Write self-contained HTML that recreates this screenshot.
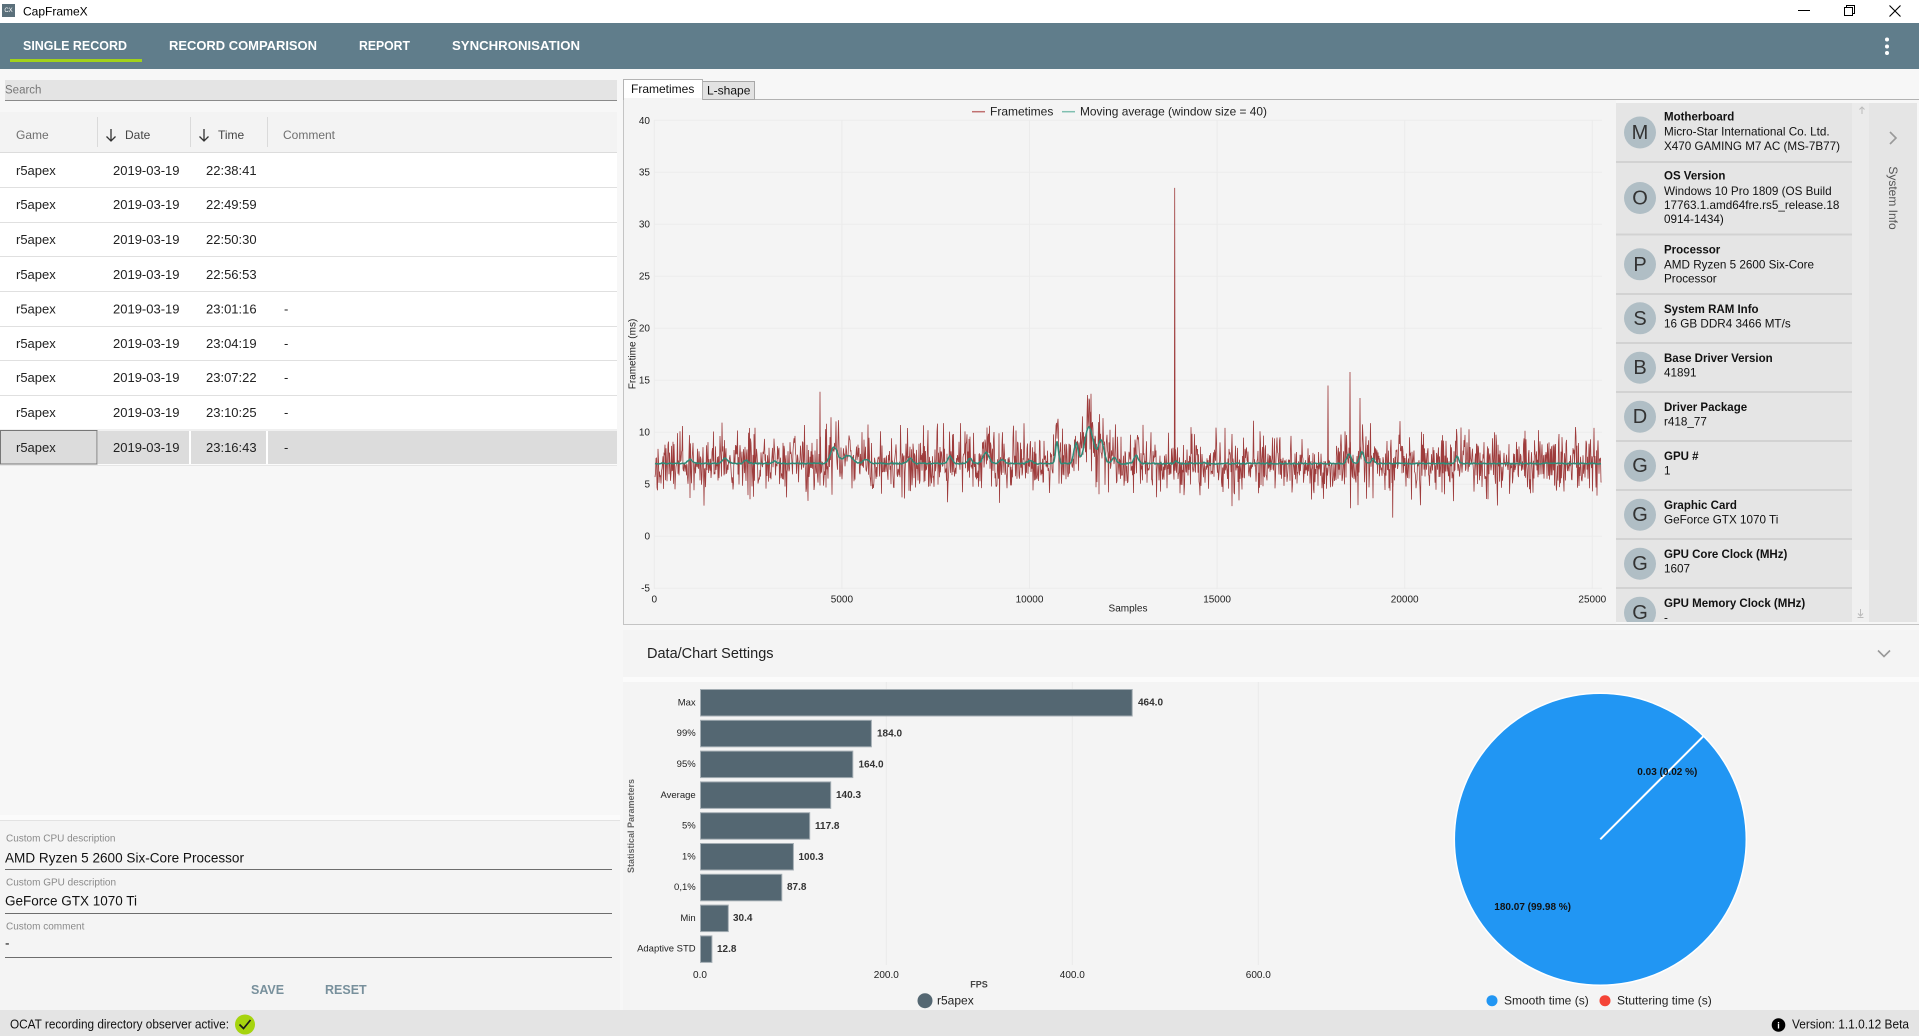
<!DOCTYPE html>
<html><head><meta charset="utf-8">
<style>
html,body{margin:0;padding:0;width:1919px;height:1036px;overflow:hidden;background:#f7f7f7;}
svg{display:block;font-family:"Liberation Sans",Arial,sans-serif;}
</style></head><body>
<svg width="1919" height="1036" viewBox="0 0 1919 1036" xmlns="http://www.w3.org/2000/svg">
<defs>
<clipPath id="sysclip"><rect x="1616" y="103" width="236" height="519"/></clipPath>
</defs>
<!-- page bg -->
<rect x="0" y="0" width="1919" height="1036" fill="#f7f7f7"/>
<!-- title bar -->
<rect x="0" y="0" width="1919" height="23" fill="#ffffff"/>
<rect x="2" y="4" width="13" height="13" fill="#5b707b"/>
<text x="8.5" y="11" font-size="6" fill="#fff" text-anchor="middle" dominant-baseline="central">CX</text>
<text x="23" y="11.5" font-size="12" fill="#000" dominant-baseline="central">CapFrameX</text>
<line x1="1798" y1="10.5" x2="1810" y2="10.5" stroke="#000" stroke-width="1"/>
<rect x="1844.5" y="7.5" width="8" height="8" fill="none" stroke="#000" stroke-width="1"/>
<path d="M1846.5,7.5 V5.5 H1854.5 V13.5 H1852.5" fill="none" stroke="#000" stroke-width="1"/>
<path d="M1889.5,5.5 L1900.5,16.5 M1900.5,5.5 L1889.5,16.5" stroke="#000" stroke-width="1.1"/>
<!-- nav -->
<rect x="0" y="23" width="1919" height="46" fill="#607d8b"/>
<g font-size="12.5" font-weight="bold" fill="#ffffff" dominant-baseline="central">
<text x="23" y="46" textLength="104" lengthAdjust="spacingAndGlyphs">SINGLE RECORD</text>
<text x="169" y="46" textLength="148" lengthAdjust="spacingAndGlyphs">RECORD COMPARISON</text>
<text x="359" y="46" textLength="51" lengthAdjust="spacingAndGlyphs">REPORT</text>
<text x="452" y="46" textLength="128" lengthAdjust="spacingAndGlyphs">SYNCHRONISATION</text>
</g>
<rect x="10" y="59" width="132" height="3" fill="#a2d21a"/>
<circle cx="1887" cy="39.5" r="2" fill="#fff"/>
<circle cx="1887" cy="46.5" r="2" fill="#fff"/>
<circle cx="1887" cy="53" r="2" fill="#fff"/>

<!-- LEFT PANEL -->
<rect x="5" y="80" width="612" height="20" fill="#e4e4e4"/>
<line x1="5" y1="100.5" x2="617" y2="100.5" stroke="#8a8a8a" stroke-width="1"/>
<text x="5" y="90.5" font-size="11.5" fill="#777" dominant-baseline="central">Search</text>

<rect x="0" y="112" width="617" height="40" fill="#f3f3f3"/>
<line x1="0" y1="152.5" x2="617" y2="152.5" stroke="#dcdcdc"/>
<g stroke="#dadada" stroke-width="1">
<line x1="97.5" y1="117" x2="97.5" y2="147"/>
<line x1="190.5" y1="117" x2="190.5" y2="147"/>
<line x1="267.5" y1="117" x2="267.5" y2="147"/>
</g>
<g font-size="12" dominant-baseline="central">
<text x="16" y="135" fill="#6f6f6f">Game</text>
<text x="125" y="135" fill="#444">Date</text>
<text x="218" y="135" fill="#444">Time</text>
<text x="283" y="135" fill="#6f6f6f">Comment</text>
</g>
<path d="M111,129 V141 M106.5,136.5 L111,141 L115.5,136.5 M204,129 V141 M199.5,136.5 L204,141 L208.5,136.5" fill="none" stroke="#333" stroke-width="1.3"/>

<rect x="0" y="153" width="617" height="277" fill="#ffffff"/>
<g stroke="#e0e0e0" stroke-width="1">
<line x1="0" y1="187.5" x2="617" y2="187.5"/>
<line x1="0" y1="222.5" x2="617" y2="222.5"/>
<line x1="0" y1="256.5" x2="617" y2="256.5"/>
<line x1="0" y1="291.5" x2="617" y2="291.5"/>
<line x1="0" y1="326.5" x2="617" y2="326.5"/>
<line x1="0" y1="360.5" x2="617" y2="360.5"/>
<line x1="0" y1="395.5" x2="617" y2="395.5"/>
<line x1="0" y1="430" x2="617" y2="430"/>
</g>
<!-- selected row -->
<rect x="0" y="430.5" width="617" height="34" fill="#ffffff"/>
<rect x="0.5" y="430.5" width="96.5" height="33.5" fill="#dcdcdc" stroke="#777" stroke-width="1"/>
<rect x="98" y="431" width="91" height="33" fill="#dcdcdc"/>
<rect x="191" y="431" width="75" height="33" fill="#dcdcdc"/>
<rect x="268" y="431" width="349" height="33" fill="#dcdcdc"/>
<line x1="0" y1="465.5" x2="617" y2="465.5" stroke="#e6e6e6"/>

<g font-size="13" fill="#222" dominant-baseline="central">
<text x="16" y="170.5">r5apex</text><text x="113" y="170.5">2019-03-19</text><text x="206" y="170.5">22:38:41</text>
<text x="16" y="204.7">r5apex</text><text x="113" y="204.7">2019-03-19</text><text x="206" y="204.7">22:49:59</text>
<text x="16" y="239.7">r5apex</text><text x="113" y="239.7">2019-03-19</text><text x="206" y="239.7">22:50:30</text>
<text x="16" y="274.5">r5apex</text><text x="113" y="274.5">2019-03-19</text><text x="206" y="274.5">22:56:53</text>
<text x="16" y="309">r5apex</text><text x="113" y="309">2019-03-19</text><text x="206" y="309">23:01:16</text><text x="284" y="309">-</text>
<text x="16" y="343.7">r5apex</text><text x="113" y="343.7">2019-03-19</text><text x="206" y="343.7">23:04:19</text><text x="284" y="343.7">-</text>
<text x="16" y="377.7">r5apex</text><text x="113" y="377.7">2019-03-19</text><text x="206" y="377.7">23:07:22</text><text x="284" y="377.7">-</text>
<text x="16" y="412.7">r5apex</text><text x="113" y="412.7">2019-03-19</text><text x="206" y="412.7">23:10:25</text><text x="284" y="412.7">-</text>
<text x="16" y="447.7">r5apex</text><text x="113" y="447.7">2019-03-19</text><text x="206" y="447.7">23:16:43</text><text x="284" y="447.7">-</text>
</g>

<!-- descriptions -->
<rect x="0" y="815" width="620" height="5" fill="#fbfbfb"/>
<line x1="0" y1="820.5" x2="620" y2="820.5" stroke="#e2e2e2"/>
<rect x="0" y="821" width="620" height="189" fill="#f4f4f4"/>
<g dominant-baseline="central">
<text x="6" y="839" font-size="10" fill="#8a8a8a">Custom CPU description</text>
<text x="5" y="858" font-size="13.5" fill="#111" textLength="239" lengthAdjust="spacingAndGlyphs">AMD Ryzen 5 2600 Six-Core Processor</text>
<text x="6" y="883" font-size="10" fill="#8a8a8a">Custom GPU description</text>
<text x="5" y="901" font-size="13.5" fill="#111">GeForce GTX 1070 Ti</text>
<text x="6" y="927" font-size="10" fill="#8a8a8a">Custom comment</text>
<text x="5" y="943" font-size="13.5" fill="#111">-</text>
<text x="251" y="990" font-size="12.5" font-weight="bold" fill="#78909c">SAVE</text>
<text x="325" y="990" font-size="12.5" font-weight="bold" fill="#78909c">RESET</text>
</g>
<g stroke="#6d6d6d" stroke-width="1">
<line x1="5" y1="869.5" x2="612" y2="869.5"/>
<line x1="5" y1="913.5" x2="612" y2="913.5"/>
<line x1="5" y1="957.5" x2="612" y2="957.5"/>
</g>

<!-- status bar -->
<rect x="0" y="1010" width="1919" height="26" fill="#e4e4e4"/>
<text x="10" y="1024.5" font-size="12.5" fill="#111" dominant-baseline="central" textLength="219" lengthAdjust="spacingAndGlyphs">OCAT recording directory observer active:</text>
<circle cx="245" cy="1024.5" r="10" fill="#a6d40e"/>
<path d="M239.5,1024.5 L243.5,1028.5 L250.5,1020" fill="none" stroke="#1a1a1a" stroke-width="1.7"/>
<circle cx="1778.5" cy="1025" r="6.8" fill="#000"/>
<text x="1778.5" y="1025.5" font-size="9" font-weight="bold" fill="#fff" text-anchor="middle" dominant-baseline="central">i</text>
<text x="1792" y="1024.5" font-size="12.5" fill="#111" dominant-baseline="central" textLength="117" lengthAdjust="spacingAndGlyphs">Version:  1.1.0.12 Beta</text>

<!-- RIGHT: tabs -->
<line x1="623" y1="99.5" x2="1919" y2="99.5" stroke="#b2b2b2"/>
<rect x="702.5" y="81.5" width="52" height="18" fill="#e2e2e2" stroke="#a8a8a8"/>
<text x="707" y="90.5" font-size="12" fill="#111" dominant-baseline="central">L-shape</text>
<rect x="623.5" y="79.5" width="79" height="21" fill="#ffffff" stroke="#b4b4b4"/>
<text x="631" y="89" font-size="12" fill="#111" dominant-baseline="central">Frametimes</text>

<!-- chart panel -->
<rect x="623" y="100" width="993" height="524" fill="#f4f4f4"/>
<line x1="623.5" y1="100" x2="623.5" y2="624" stroke="#c4c4c4"/>
<line x1="623" y1="624.5" x2="1919" y2="624.5" stroke="#c4c4c4"/>
<rect x="624" y="98" width="78" height="3" fill="#f4f4f4"/>

<!-- grid -->
<g stroke="#ebebeb" stroke-width="1">
<line x1="654" y1="120.3" x2="1602" y2="120.3"/>
<line x1="654" y1="172.3" x2="1602" y2="172.3"/>
<line x1="654" y1="224.3" x2="1602" y2="224.3"/>
<line x1="654" y1="276.3" x2="1602" y2="276.3"/>
<line x1="654" y1="328.3" x2="1602" y2="328.3"/>
<line x1="654" y1="380.3" x2="1602" y2="380.3"/>
<line x1="654" y1="432.3" x2="1602" y2="432.3"/>
<line x1="654" y1="484.3" x2="1602" y2="484.3"/>
<line x1="654" y1="536.3" x2="1602" y2="536.3"/>
<line x1="654" y1="588.3" x2="1602" y2="588.3"/>
<line x1="654.3" y1="120" x2="654.3" y2="589"/>
<line x1="841.9" y1="120" x2="841.9" y2="589"/>
<line x1="1029.5" y1="120" x2="1029.5" y2="589"/>
<line x1="1217.1" y1="120" x2="1217.1" y2="589"/>
<line x1="1404.7" y1="120" x2="1404.7" y2="589"/>
<line x1="1592.3" y1="120" x2="1592.3" y2="589"/>
</g>
<g font-size="10" fill="#222" text-anchor="end" dominant-baseline="central">
<text x="650" y="121.5">40</text><text x="650" y="173">35</text><text x="650" y="225">30</text>
<text x="650" y="277">25</text><text x="650" y="329">20</text><text x="650" y="381">15</text>
<text x="650" y="433">10</text><text x="650" y="485">5</text><text x="650" y="537">0</text>
<text x="650" y="589">-5</text>
</g>
<g font-size="10" fill="#222" text-anchor="middle" dominant-baseline="central">
<text x="654.3" y="600">0</text><text x="841.9" y="600">5000</text><text x="1029.5" y="600">10000</text>
<text x="1217.1" y="600">15000</text><text x="1404.7" y="600">20000</text><text x="1592.3" y="600">25000</text>
<text x="1128" y="609">Samples</text>
</g>
<text transform="translate(633,354) rotate(-90)" font-size="10" fill="#222" text-anchor="middle" dominant-baseline="central">Frametime (ms)</text>
<!-- legend -->
<line x1="972" y1="111.7" x2="985" y2="111.7" stroke="#c07070" stroke-width="1.5"/>
<text x="990" y="111.7" font-size="12" fill="#222" dominant-baseline="central">Frametimes</text>
<line x1="1062" y1="111.7" x2="1075" y2="111.7" stroke="#7fbfb0" stroke-width="1.5"/>
<text x="1080" y="111.7" font-size="12" fill="#222" dominant-baseline="central" textLength="187" lengthAdjust="spacingAndGlyphs">Moving average (window size = 40)</text>
<!-- series -->
<path id="ft" d="" fill="none" stroke="#8e1b1b" stroke-opacity="0.85" stroke-width="0.8"/>
<path id="ma" d="" fill="none" stroke="#2e8b78" stroke-width="1.5"/>

<!-- System info panel -->
<rect x="1616" y="103" width="236" height="519" fill="#e5e5e5"/>
<rect x="1852" y="103" width="17" height="447" fill="#ebebeb"/>
<rect x="1852" y="550" width="17" height="72" fill="#f0f0f0"/>
<rect x="1869" y="103" width="48" height="519" fill="#e5e5e5"/>
<path d="M1862,114 V107 M1859.5,109.5 L1862,107 L1864.5,109.5" fill="none" stroke="#bbb" stroke-width="1"/>
<path d="M1860.5,609 V616 M1858,613.5 L1860.5,616 L1863,613.5 M1857.5,617.5 H1863.5" fill="none" stroke="#bbb" stroke-width="1"/>
<path d="M1890,132 L1896,138 L1890,144" fill="none" stroke="#999" stroke-width="1.6"/>
<text transform="translate(1893,198) rotate(90)" font-size="12" fill="#555" text-anchor="middle" dominant-baseline="central">System Info</text>
<g stroke="#d2d2d2" stroke-width="2">
<line x1="1616" y1="162" x2="1852" y2="162"/>
<line x1="1616" y1="234.5" x2="1852" y2="234.5"/>
<line x1="1616" y1="294" x2="1852" y2="294"/>
<line x1="1616" y1="343" x2="1852" y2="343"/>
<line x1="1616" y1="392" x2="1852" y2="392"/>
<line x1="1616" y1="441" x2="1852" y2="441"/>
<line x1="1616" y1="490" x2="1852" y2="490"/>
<line x1="1616" y1="539" x2="1852" y2="539"/>
<line x1="1616" y1="588" x2="1852" y2="588"/>
</g>
<g clip-path="url(#sysclip)">
<g fill="#b0bec5">
<circle cx="1640" cy="132.5" r="16"/><circle cx="1640" cy="198" r="16"/><circle cx="1640" cy="264.3" r="16"/>
<circle cx="1640" cy="318.3" r="16"/><circle cx="1640" cy="367.7" r="16"/><circle cx="1640" cy="416.7" r="16"/>
<circle cx="1640" cy="465.7" r="16"/><circle cx="1640" cy="514.7" r="16"/><circle cx="1640" cy="563.7" r="16"/>
<circle cx="1640" cy="612.7" r="16"/>
</g>
<g font-size="20" fill="#333" text-anchor="middle" dominant-baseline="central">
<text x="1640" y="133">M</text><text x="1640" y="198.5">O</text><text x="1640" y="264.8">P</text>
<text x="1640" y="318.8">S</text><text x="1640" y="368.2">B</text><text x="1640" y="417.2">D</text>
<text x="1640" y="466.2">G</text><text x="1640" y="515.2">G</text><text x="1640" y="564.2">G</text>
<text x="1640" y="613.2">G</text>
</g>
<g font-size="11.5" font-weight="bold" fill="#111" dominant-baseline="central">
<text x="1664" y="117.5">Motherboard</text>
<text x="1664" y="176.7">OS Version</text>
<text x="1664" y="250.7">Processor</text>
<text x="1664" y="310">System RAM Info</text>
<text x="1664" y="359">Base Driver Version</text>
<text x="1664" y="408">Driver Package</text>
<text x="1664" y="457">GPU #</text>
<text x="1664" y="506">Graphic Card</text>
<text x="1664" y="555">GPU Core Clock (MHz)</text>
<text x="1664" y="604">GPU Memory Clock (MHz)</text>
</g>
<g font-size="11.7" fill="#111" dominant-baseline="central">
<text x="1664" y="132">Micro-Star International Co. Ltd.</text>
<text x="1664" y="146.5">X470 GAMING M7 AC (MS-7B77)</text>
<text x="1664" y="191.3">Windows 10 Pro 1809 (OS Build</text>
<text x="1664" y="205.3">17763.1.amd64fre.rs5_release.18</text>
<text x="1664" y="219.3">0914-1434)</text>
<text x="1664" y="265">AMD Ryzen 5 2600 Six-Core</text>
<text x="1664" y="279">Processor</text>
<text x="1664" y="324">16 GB DDR4 3466 MT/s</text>
<text x="1664" y="373">41891</text>
<text x="1664" y="422">r418_77</text>
<text x="1664" y="471">1</text>
<text x="1664" y="520">GeForce GTX 1070 Ti</text>
<text x="1664" y="569">1607</text>
<text x="1664" y="618">-</text>
</g>
</g>

<!-- Data/Chart settings -->
<rect x="623" y="630" width="1296" height="47" fill="#f4f4f4"/>
<rect x="623" y="677" width="1296" height="5" fill="#fbfbfb"/>
<text x="647" y="654" font-size="14.5" fill="#222" dominant-baseline="central">Data/Chart Settings</text>
<path d="M1878,650.5 L1884,656.5 L1890,650.5" fill="none" stroke="#999" stroke-width="1.6"/>
<rect x="623" y="682" width="1296" height="328" fill="#f4f4f4"/>

<!-- bar chart -->
<g stroke="#e9e9e9" stroke-width="1">
<line x1="886.3" y1="682" x2="886.3" y2="965"/>
<line x1="1072.3" y1="682" x2="1072.3" y2="965"/>
<line x1="1258.3" y1="682" x2="1258.3" y2="965"/>
</g>
<g fill="#546772" stroke="#a3adb3" stroke-width="1">
<rect x="700.5" y="689.5" width="431.7" height="26.5"/>
<rect x="700.5" y="720.3" width="170.9" height="26.5"/>
<rect x="700.5" y="751.1" width="152.3" height="26.5"/>
<rect x="700.5" y="781.9" width="130.2" height="26.5"/>
<rect x="700.5" y="812.7" width="109.2" height="26.5"/>
<rect x="700.5" y="843.5" width="92.9" height="26.5"/>
<rect x="700.5" y="874.3" width="81.3" height="26.5"/>
<rect x="700.5" y="905.1" width="27.8" height="26.5"/>
<rect x="700.5" y="935.9" width="11.4" height="26.5"/>
</g>
<g font-size="9.5" fill="#222" text-anchor="end" dominant-baseline="central">
<text x="695.7" y="703">Max</text><text x="695.7" y="733.7">99%</text><text x="695.7" y="764.5">95%</text>
<text x="695.7" y="795.3">Average</text><text x="695.7" y="826">5%</text><text x="695.7" y="856.8">1%</text>
<text x="695.7" y="887.6">0,1%</text><text x="695.7" y="918.4">Min</text><text x="695.7" y="949.2">Adaptive STD</text>
</g>
<g font-size="10" font-weight="bold" fill="#333" dominant-baseline="central">
<text x="1138" y="703">464.0</text><text x="877" y="734">184.0</text><text x="858.5" y="765">164.0</text>
<text x="836" y="795.5">140.3</text><text x="815" y="826.5">117.8</text><text x="798.5" y="857.5">100.3</text>
<text x="787" y="887.5">87.8</text><text x="733" y="918.5">30.4</text><text x="717" y="949.5">12.8</text>
</g>
<g font-size="10" fill="#222" text-anchor="middle" dominant-baseline="central">
<text x="700" y="975.5">0.0</text><text x="886.3" y="975.5">200.0</text><text x="1072.3" y="975.5">400.0</text><text x="1258.3" y="975.5">600.0</text>
</g>
<text x="979" y="984.5" font-size="9" font-weight="bold" fill="#444" text-anchor="middle" dominant-baseline="central">FPS</text>
<text transform="translate(631,826) rotate(-90)" font-size="9" font-weight="bold" fill="#666" text-anchor="middle" dominant-baseline="central">Statistical Parameters</text>
<circle cx="925" cy="1000.7" r="7.5" fill="#546772"/>
<text x="937" y="1000.7" font-size="12" fill="#222" dominant-baseline="central">r5apex</text>

<!-- pie -->
<circle cx="1600.3" cy="839.3" r="146" fill="#2196f3" stroke="#ffffff" stroke-width="1.5"/>
<line x1="1600.3" y1="839.3" x2="1703.5" y2="736.1" stroke="#ffffff" stroke-width="2"/>
<g font-size="10" font-weight="bold" fill="#111" dominant-baseline="central">
<text x="1637.3" y="772.7">0.03 (0.02 %)</text>
<text x="1494.3" y="907.7">180.07 (99.98 %)</text>
</g>
<circle cx="1492" cy="1000.7" r="5.5" fill="#2196f3"/>
<text x="1504" y="1000.7" font-size="12" fill="#222" dominant-baseline="central">Smooth time (s)</text>
<circle cx="1605" cy="1000.7" r="5.5" fill="#f44336"/>
<text x="1617" y="1000.7" font-size="12" fill="#222" dominant-baseline="central">Stuttering time (s)</text>
</svg>
<script>
(function(){
function R(s){return function(){s=(Math.imul(s,1664525)+1013904223)>>>0;return s/4294967296;};}
var r=R(20190319);
function g(){return (r()+r()+r()+r()-2)*1.732;}
var B=[[690,.4,3],[725,.5,4],[746,.3,3],[775,.2,3],[834,1.6,5],[848,.8,6],[866,.4,4],[910,.5,3],[950,.7,3],[970,.5,3],[986,1.1,4],[1002,.4,3],[1030,.3,3],[1057,2.1,2],[1076,1.9,3],[1089,3.5,6],[1101,2.2,4],[1114,.6,3],[1136,.8,3],[1176,.2,2],[1204,.15,2],[1349,.9,3],[1362,1.1,3],[1373,.5,2],[1457,.7,2]];
function m(x){var v=7.0;for(var i=0;i<B.length;i++){var d=(x-B[i][0])/B[i][2];v+=B[i][1]*Math.exp(-d*d);}return v;}
function Y(v){return (536.3-10.4*v).toFixed(1);}
var d=[],x,v,first=true;
for(x=655;x<=1601.7;x+=0.5){
  var mm=m(x);
  v=mm+g()*1.35*(1+0.12*(mm-7));
  if(r()<0.025) v=mm+(r()<0.6?1:-1)*(2.6+r()*1.6);
  d.push((first?'M':'L')+x.toFixed(1)+' '+Y(v));first=false;
}
var S=[[820,13.9],[1091,13.7],[1174.7,33.5],[1328,14.5],[1350,15.8],[1360,13.3],[1392.7,1.8],[1358,3.0],[1350.5,2.7],[1232,2.9]];
for(var i=0;i<S.length;i++){var sx=S[i][0],sv=S[i][1],b=m(sx);
  d.push('M'+(sx-0.4).toFixed(1)+' '+Y(b)+'L'+sx.toFixed(1)+' '+Y(sv)+'L'+(sx+0.4).toFixed(1)+' '+Y(b));}
document.getElementById('ft').setAttribute('d',d.join(''));
var a=[];first=true;
for(x=655;x<=1601;x+=1){v=m(x)+(r()-0.5)*0.12;a.push((first?'M':'L')+x+' '+Y(v));first=false;}
document.getElementById('ma').setAttribute('d',a.join(''));
})();
</script>
</body></html>
